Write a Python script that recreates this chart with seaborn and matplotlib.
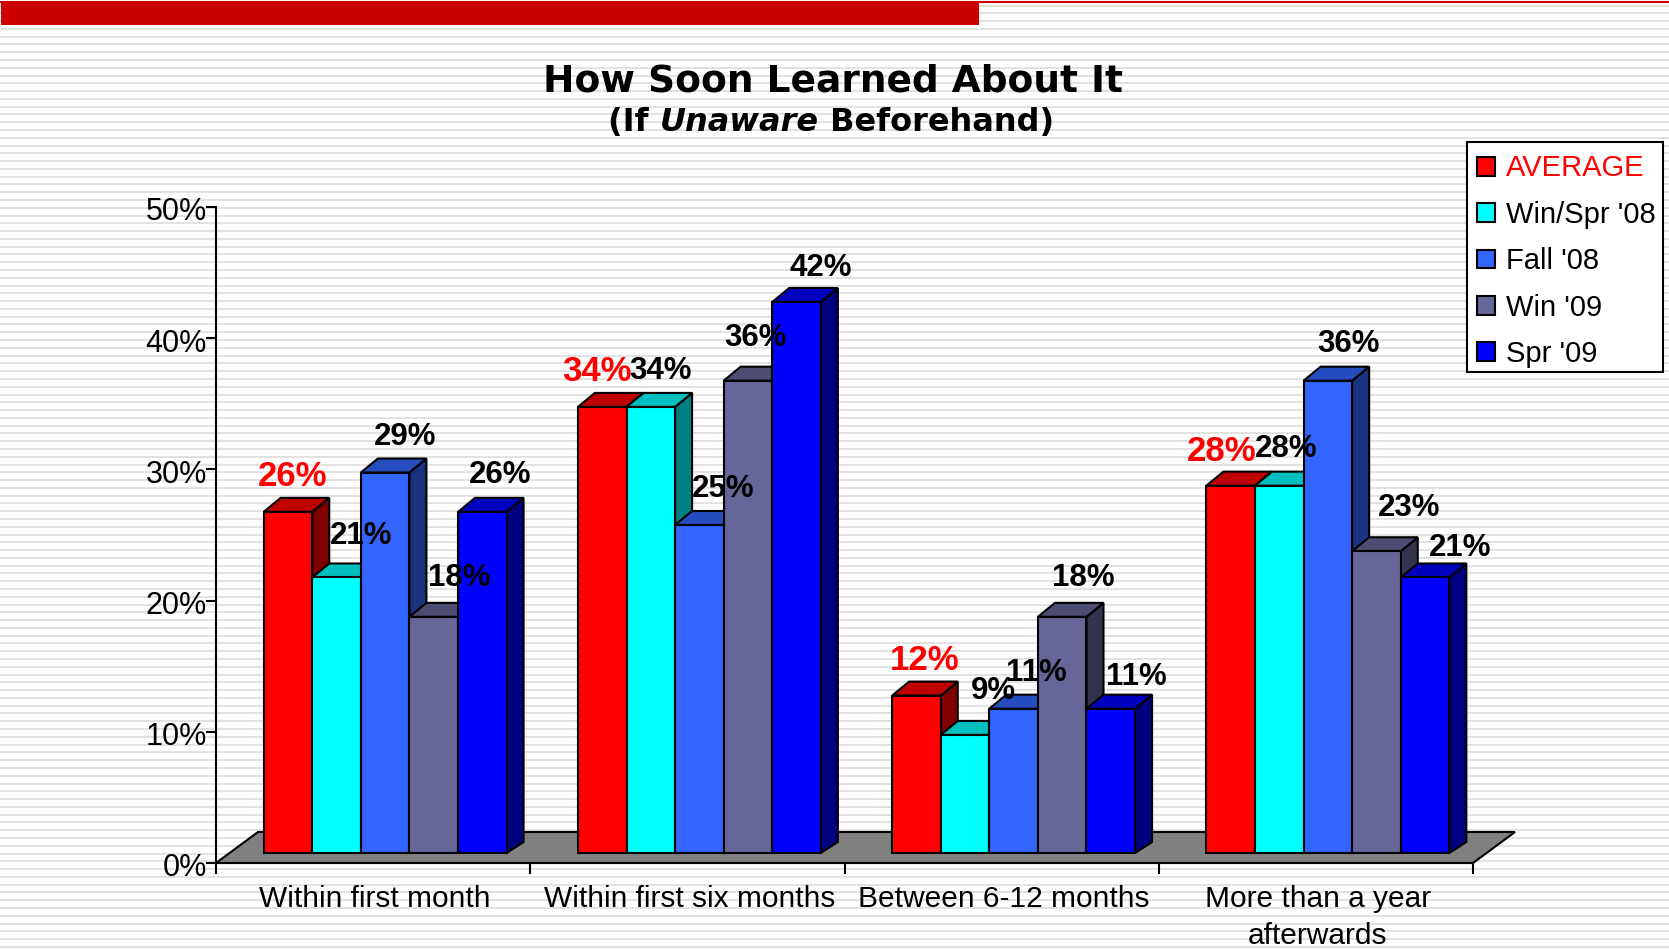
import numpy as np
import pandas as pd
import seaborn as sns
import matplotlib.pyplot as plt
from matplotlib.patches import Patch, Polygon, Rectangle
from matplotlib.transforms import ScaledTranslation

categories = ['Within first month', 'Within first six months', 'Between 6-12 months', 'More than a year\nafterwards']
series = ['AVERAGE', "Win/Spr '08", "Fall '08", "Win '09", "Spr '09"]
average = [26, 34, 12, 28]
win_spr_08 = [21, 34, 9, 28]
fall_08 = [29, 25, 11, 36]
win_09 = [18, 36, 18, 23]
spr_09 = [26, 42, 11, 21]

colors = ['#ff0000', '#00ffff', '#3366ff', '#666699', '#0000ff']
top_colors = ['#bf0000', '#00bfbf', '#264dbf', '#4d4d73', '#0000bf']
side_colors = ['#800000', '#008080', '#1a3380', '#33334d', '#000080']

# label nudges from the bar's front top corner centre, in pixels
nudge_x = [[5, -5, 8, -9], [25, 10, 28, 7], [20, 24, 23, 21], [26, 8, 21, 33], [18, 24, 26, 35]]
nudge_y = [[35, 35, 35, 34], [41, 36, 44, 37], [36, 36, 36, 37], [39, 43, 39, 43], [37, 34, 32, 29]]

W, H = 1669, 950
AX_L, AX_R, AX_T, AX_B = 216, 1473, 207, 863

df = pd.DataFrame({
    'category': np.tile(categories, len(series)),
    'series': np.repeat(series, len(categories)),
    'value': average + win_spr_08 + fall_08 + win_09 + spr_09,
})

sns.set_theme(style='ticks')
plt.rcParams['font.family'] = ['Liberation Sans', 'DejaVu Sans']

fig = plt.figure(figsize=(W / 100, H / 100), dpi=100, facecolor='white')

# striped slide background and the red header bar
bg = fig.add_axes([0, 0, 1, 1])
bg.set_xlim(0, W)
bg.set_ylim(H, 0)
bg.axis('off')
bg.hlines(np.arange(5.5, H, 7.78), 0, W, color='#e2e2e2', lw=1.4, zorder=1)
bg.hlines(2, 0, W, color='#cc0000', lw=1.5, zorder=2)
bg.add_patch(Rectangle((1, 2), 978, 23, color='#cc0000', lw=0, zorder=3))
# legend box
bg.add_patch(Rectangle((1467, 142), 196, 230, facecolor='white', edgecolor='black', lw=1.5, zorder=3))

ax = fig.add_axes([AX_L / W, 1 - AX_B / H, (AX_R - AX_L) / W, (AX_B - AX_T) / H])
ax.patch.set_alpha(0)

BASE_PX = 10
SHIFT_PX = 12
BAR_DX, BAR_DY = 17, 14
FLOOR_DX, FLOOR_DY = 42, 31
px_x = (AX_R - AX_L) / 4
px_y = (AX_B - AX_T) / 50

sns.barplot(data=df, x='category', y='value', hue='series', order=categories, hue_order=series,
            palette=colors, width=0.773, gap=0, edgecolor='black', linewidth=1.5, saturation=1,
            errorbar=None, legend=False, ax=ax)

ax.set_xlim(-0.5, 3.5)
ax.set_ylim(0, 50)
ax.set_xlabel('')
ax.set_ylabel('')

# floor of the 3D box
fdx, fdy = FLOOR_DX / px_x, FLOOR_DY / px_y
ax.add_patch(Polygon([(-0.5, 0), (3.5, 0), (3.5 + fdx, fdy), (-0.5 + fdx, fdy)], closed=True,
                     facecolor='#808080', edgecolor='black', lw=1.5, clip_on=False, zorder=1))

# 3D sides: walk bars left to right so later ones cover earlier sides
dx, dy = BAR_DX / px_x, BAR_DY / px_y
bars = []
for i, cont in enumerate(ax.containers):
    for j, bar in enumerate(cont):
        bars.append((j, i, bar))
bars.sort(key=lambda b: (b[0], b[1]))

for order, (j, i, bar) in enumerate(bars):
    bar.set_x(bar.get_x() + SHIFT_PX / px_x)
    bar.set_y(BASE_PX / px_y)
    bar.set_clip_on(False)
    x0, x1 = bar.get_x(), bar.get_x() + bar.get_width()
    b, t = bar.get_y(), bar.get_y() + bar.get_height()
    z = 3 + order * 0.01
    bar.set_zorder(z + 0.002)
    ax.add_patch(Polygon([(x1, b), (x1 + dx, b + dy - 3 / px_y), (x1 + dx, t + dy), (x1, t)], closed=True,
                         facecolor=side_colors[i], edgecolor='black', lw=1.5, zorder=z, clip_on=False))
    ax.add_patch(Polygon([(x0, t), (x1, t), (x1 + dx, t + dy), (x0 + dx, t + dy)], closed=True,
                         facecolor=top_colors[i], edgecolor='black', lw=1.5, zorder=z + 0.001, clip_on=False))
    val = int(round(bar.get_height()))
    ax.annotate(f'{val}%', xy=((x0 + x1) / 2, t), xytext=(nudge_x[i][j], nudge_y[i][j]),
                textcoords='offset pixels', ha='center', va='center', fontweight='bold',
                fontsize=25 if i == 0 else 22.5, color='#ff0000' if i == 0 else 'black', zorder=10)

sns.despine(ax=ax)
ax.spines['left'].set_linewidth(1.5)
ax.spines['bottom'].set_linewidth(1.5)
ax.spines['left'].set_color('black')
ax.spines['bottom'].set_color('black')

ax.set_yticks(range(0, 51, 10))
ax.set_yticklabels([f'{v}%' for v in range(0, 51, 10)], fontsize=22, color='black')
ax.tick_params(axis='y', length=7.5, width=1.5, pad=-1, color='black')
ax.set_xticks([-0.5, 0.5, 1.5, 2.5, 3.5])
ax.set_xticklabels([])
ax.set_xticks(range(4), minor=True)
ax.set_xticklabels(categories, minor=True, fontsize=21.5, linespacing=1.4, color='black')
ax.tick_params(axis='x', which='major', length=8, width=1.5, color='black')
ax.tick_params(axis='x', which='minor', length=0, pad=16)

# small pixel corrections for the tick labels
down = ScaledTranslation(0, -2 / 100, fig.dpi_scale_trans)
right = ScaledTranslation(2 / 100, 0, fig.dpi_scale_trans)
for lab in ax.get_yticklabels():
    lab.set_transform(lab.get_transform() + down)
for lab in ax.get_xticklabels(minor=True):
    lab.set_transform(lab.get_transform() + right)

handles = [Patch(facecolor=c, edgecolor='black', lw=1.5) for c in colors]
leg = ax.legend(handles, series, loc='upper left', bbox_to_anchor=(1477 / W, 1 - 154.5 / H),
                bbox_transform=fig.transFigure, fontsize=21, frameon=False, handlelength=0.62,
                handleheight=0.62, handletextpad=0.38, labelspacing=0.63, borderpad=0, borderaxespad=0,
                labelcolor='black')
leg.set_zorder(20)
leg.get_texts()[0].set_color('#ff0000')

# title, second line has an italic word so it is put together from three texts
fig.text(833 / W, 1 - 91.5 / H, 'How Soon Learned About It', family='DejaVu Sans', fontweight='bold',
         fontsize=27, ha='center', va='baseline', color='black')
renderer = fig.canvas.get_renderer()
x = 608
for part, style in [('(If ', 'normal'), ('Unaware', 'italic'), (' Beforehand)', 'normal')]:
    t = fig.text(x / W, 1 - 131 / H, part, family='DejaVu Sans', fontweight='bold', fontstyle=style,
                 fontsize=23, ha='left', va='baseline', color='black')
    x = t.get_window_extent(renderer).x1

fig.savefig('out.png', dpi=100)
